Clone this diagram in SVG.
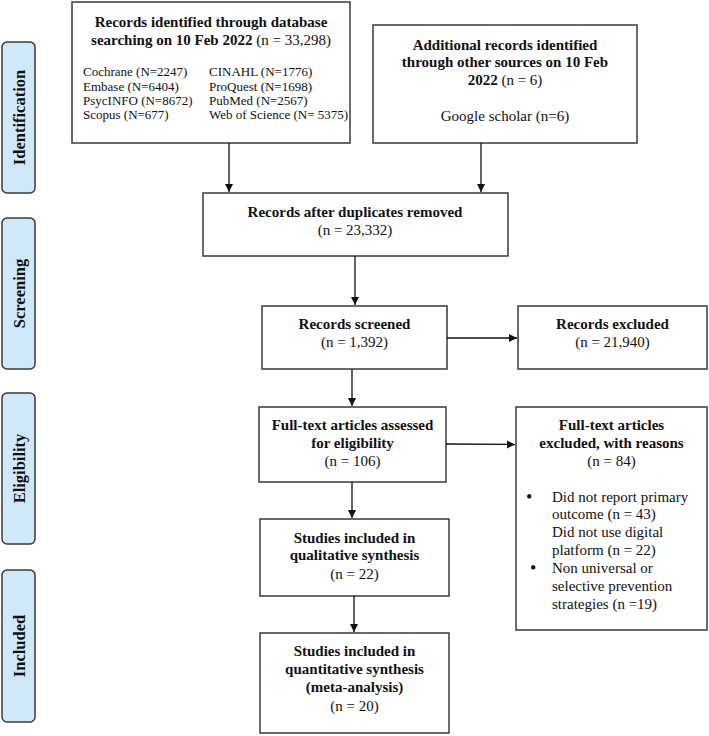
<svg xmlns="http://www.w3.org/2000/svg" width="709" height="736" viewBox="0 0 709 736">
<style>
.box{fill:#fff;stroke:#3a3a3a;stroke-width:1.5}
.side{fill:#cfe8fa;stroke:#3a3a3a;stroke-width:1.5}
text{font-family:"Liberation Serif","Times New Roman",serif;fill:#111}
.b{font-weight:bold;font-size:15px}
.n{font-size:15px}
.s{font-size:13px}
.sd{font-weight:bold;font-size:16.5px}
.c{text-anchor:middle}
.ln{stroke:#111;stroke-width:1.3;fill:none}
.dot{font-size:18px}
</style>
<defs>
<marker id="ah" markerWidth="10" markerHeight="10" refX="8" refY="4" orient="auto" markerUnits="userSpaceOnUse">
<path d="M0,0 L8,4 L0,8 Z" fill="#111"/>
</marker>
</defs>
<rect width="709" height="736" fill="#fff"/>

<g id="side-identification">
<rect class="side" x="2" y="42" width="33" height="151" rx="5"/>
<text class="sd c" transform="translate(24.5,117.5) rotate(-90)">Identification</text>
</g>
<g id="side-screening">
<rect class="side" x="2" y="218" width="33" height="151" rx="5"/>
<text class="sd c" transform="translate(24.5,293.5) rotate(-90)">Screening</text>
</g>
<g id="side-eligibility">
<rect class="side" x="2" y="393" width="33" height="151" rx="5"/>
<text class="sd c" transform="translate(24.5,468.5) rotate(-90)">Eligibility</text>
</g>
<g id="side-included">
<rect class="side" x="2" y="570" width="33" height="152" rx="5"/>
<text class="sd c" transform="translate(24.5,646) rotate(-90)">Included</text>
</g>

<g id="database">
<rect class="box" x="72" y="2" width="278" height="141"/>
<text class="b c" x="211" y="27">Records identified through database</text>
<text class="c" x="211" y="45"><tspan class="b">searching on 10 Feb 2022</tspan><tspan class="n"> (n = 33,298)</tspan></text>
<text class="s" x="83" y="76">Cochrane (N=2247)</text>
<text class="s" x="83" y="91">Embase (N=6404)</text>
<text class="s" x="83" y="105">PsycINFO (N=8672)</text>
<text class="s" x="83" y="119">Scopus (N=677)</text>
<text class="s" x="209" y="76">CINAHL (N=1776)</text>
<text class="s" x="209" y="91">ProQuest (N=1698)</text>
<text class="s" x="209" y="105">PubMed (N=2567)</text>
<text class="s" x="209" y="119">Web of Science (N= 5375)</text>
</g>

<g id="other-sources">
<rect class="box" x="373" y="25" width="264" height="118"/>
<text class="b c" x="505" y="50">Additional records identified</text>
<text class="b c" x="505" y="67">through other sources on 10 Feb</text>
<text class="c" x="505" y="85"><tspan class="b">2022</tspan><tspan class="n"> (n = 6)</tspan></text>
<text class="n c" x="505" y="121">Google scholar (n=6)</text>
</g>

<g id="after-duplicates">
<rect class="box" x="203" y="193" width="305" height="63"/>
<text class="b c" x="355" y="217">Records after duplicates removed</text>
<text class="n c" x="355" y="235">(n = 23,332)</text>
</g>

<g id="screened">
<rect class="box" x="262" y="306" width="185" height="63"/>
<text class="b c" x="354.5" y="329">Records screened</text>
<text class="n c" x="354.5" y="347">(n = 1,392)</text>
</g>

<g id="excluded">
<rect class="box" x="518" y="306" width="189" height="63"/>
<text class="b c" x="612.5" y="329">Records excluded</text>
<text class="n c" x="612.5" y="347">(n = 21,940)</text>
</g>

<g id="fulltext">
<rect class="box" x="259" y="407" width="187" height="75"/>
<text class="b c" x="352.5" y="430">Full-text articles assessed</text>
<text class="b c" x="352.5" y="448">for eligibility</text>
<text class="n c" x="352.5" y="466">(n = 106)</text>
</g>

<g id="fulltext-excluded">
<rect class="box" x="516" y="407" width="191" height="223"/>
<text class="b c" x="611.5" y="430">Full-text articles</text>
<text class="b c" x="611.5" y="448">excluded, with reasons</text>
<text class="n c" x="611.5" y="466">(n = 84)</text>
<text class="dot" x="526" y="503">•</text>
<text class="n" x="552" y="502">Did not report primary</text>
<text class="n" x="552" y="519">outcome (n = 43)</text>
<text class="n" x="552" y="537">Did not use digital</text>
<text class="n" x="552" y="555">platform (n = 22)</text>
<text class="dot" x="530" y="574">•</text>
<text class="n" x="552" y="573">Non universal or</text>
<text class="n" x="552" y="591">selective prevention</text>
<text class="n" x="552" y="609">strategies (n =19)</text>
</g>

<g id="qualitative">
<rect class="box" x="260" y="519" width="189" height="77"/>
<text class="b c" x="354.5" y="543">Studies included in</text>
<text class="b c" x="354.5" y="560">qualitative synthesis</text>
<text class="n c" x="354.5" y="579">(n = 22)</text>
</g>

<g id="quantitative">
<rect class="box" x="260" y="633" width="189" height="100"/>
<text class="b c" x="354.5" y="656">Studies included in</text>
<text class="b c" x="354.5" y="674">quantitative synthesis</text>
<text class="b c" x="354.5" y="692">(meta-analysis)</text>
<text class="n c" x="354.5" y="711">(n = 20)</text>
</g>

<g id="connectors">
<line class="ln" x1="229" y1="143" x2="229" y2="192" marker-end="url(#ah)"/>
<line class="ln" x1="481" y1="143" x2="481" y2="192" marker-end="url(#ah)"/>
<line class="ln" x1="355" y1="256" x2="355" y2="305" marker-end="url(#ah)"/>
<line class="ln" x1="447" y1="338" x2="517" y2="338" marker-end="url(#ah)"/>
<line class="ln" x1="352" y1="369" x2="352" y2="406" marker-end="url(#ah)"/>
<line class="ln" x1="446" y1="444" x2="515" y2="444.5" marker-end="url(#ah)"/>
<line class="ln" x1="352" y1="482" x2="352" y2="518" marker-end="url(#ah)"/>
<line class="ln" x1="354" y1="596" x2="354" y2="632" marker-end="url(#ah)"/>
</g>
</svg>
